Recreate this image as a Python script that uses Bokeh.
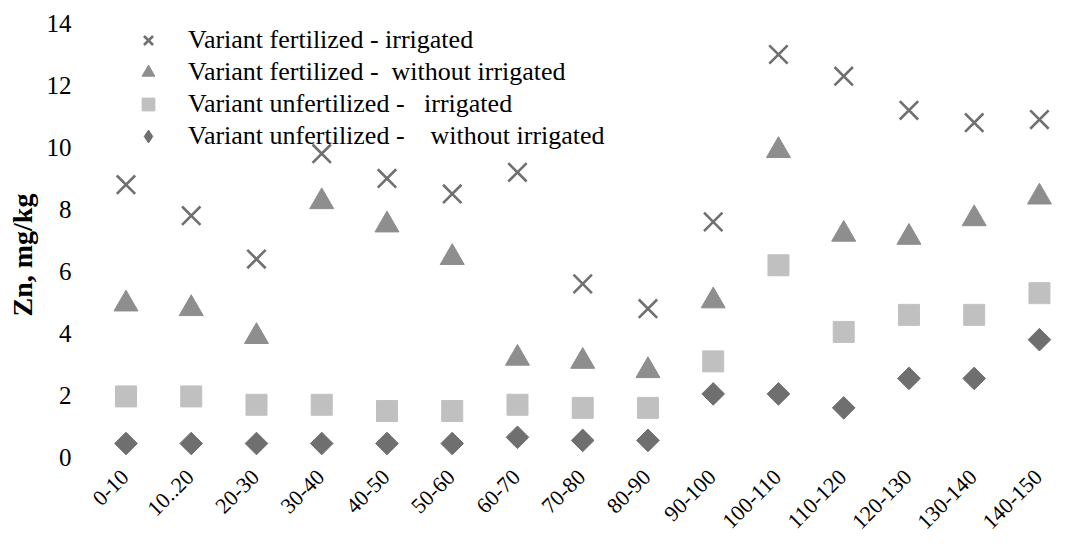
import math
from bokeh.plotting import figure
from bokeh.models import Range1d, FixedTicker, Legend, LegendItem, Label, Title
from bokeh.embed import file_html
from bokeh.resources import INLINE

# ---- data ----
depths = ["0-10", "10..20", "20-30", "30-40", "40-50", "50-60", "60-70", "70-80",
          "80-90", "90-100", "100-110", "110-120", "120-130", "130-140", "140-150"]
fert_irrigated = [8.8, 7.8, 6.4, 9.8, 9.0, 8.5, 9.2, 5.6, 4.8, 7.6, 13.0, 12.3, 11.2, 10.8, 10.9]
fert_dry = [4.95, 4.8, 3.9, 8.25, 7.5, 6.45, 3.2, 3.1, 2.8, 5.05, 9.9, 7.2, 7.1, 7.7, 8.4]
unfert_irrigated = [1.97, 1.97, 1.7, 1.7, 1.5, 1.5, 1.7, 1.6, 1.6, 3.1, 6.2, 4.05, 4.6, 4.6, 5.3]
unfert_dry = [0.45, 0.45, 0.45, 0.45, 0.45, 0.45, 0.65, 0.55, 0.55, 2.05, 2.05, 1.6, 2.55, 2.55, 3.8]
y_ticks = [0, 2, 4, 6, 8, 10, 12, 14]
labels = ["Variant fertilized - irrigated",
          "Variant fertilized -  without irrigated",
          "Variant unfertilized -   irrigated",
          "Variant unfertilized -    without irrigated"]
y_title = "Zn,  mg/kg"

xs = list(range(len(depths)))
FONT = "Liberation Serif"

# frame runs down to the canvas bottom so the rotated category labels sit inside it
p = figure(width=1052, height=536, output_backend="svg", toolbar_location=None,
           x_range=Range1d(-0.5745, 14.2), y_range=Range1d(-2.55, 14),
           min_border_left=80, min_border_top=23, min_border_right=0, min_border_bottom=0)
p.outline_line_color = None
p.grid.visible = False
p.background_fill_color = "white"

r1 = p.scatter(xs, fert_irrigated, marker="x", size=26, line_color="#707070", line_width=2.6)
r2 = p.scatter(xs, fert_dry, marker="triangle", size=24, fill_color="#8e8e8e", line_color="#8e8e8e")
r3 = p.scatter(xs, unfert_irrigated, marker="square", size=21, fill_color="#c0c0c0", line_color="#c0c0c0")
r4 = p.scatter(xs, unfert_dry, marker="square", angle=math.pi / 4, size=16,
               fill_color="#6f6f6f", line_color="#6f6f6f")
# same series as a diamond of zero size, used only for the legend swatch
r4_key = p.scatter(xs, unfert_dry, marker="diamond", size=0,
                   fill_color="#6f6f6f", line_color="#6f6f6f")

# x axis: hidden, labels drawn rotated under each category
p.xaxis.visible = False
for i, d in zip(xs, depths):
    p.add_layout(Label(x=i, y=0, text=d, angle=math.pi / 4,
                       text_align="right", text_baseline="middle",
                       x_offset=-1, y_offset=-16,
                       text_font=FONT, text_font_size="22px", text_color="black"))

# y axis
ya = p.yaxis[0]
ya.ticker = FixedTicker(ticks=y_ticks)
ya.axis_line_color = None
ya.major_tick_line_color = None
ya.minor_tick_line_color = None
ya.major_tick_out = 0
ya.major_tick_in = 0
ya.major_label_text_font = FONT
ya.major_label_text_font_size = "25px"
ya.major_label_text_color = "black"
ya.major_label_standoff = 17

# y title as a left-side title, lifted to sit beside the 0..14 scale
p.add_layout(Title(text=y_title, align="left", offset=220, standoff=10, vertical_align="middle",
                   text_font=FONT, text_font_style="bold", text_font_size="28px",
                   text_color="black"), "left")

legend = Legend(items=[LegendItem(label=l, renderers=[r]) for l, r in zip(labels, [r1, r2, r3, r4_key])],
                location=(44, 384), margin=0, padding=0, spacing=0,
                glyph_width=32, glyph_height=32, label_height=32, label_standoff=24,
                label_text_font=FONT, label_text_font_size="26px", label_text_color="black",
                border_line_color=None, background_fill_alpha=0)
p.add_layout(legend, "center")

open("out.html", "w").write(file_html(p, INLINE))
